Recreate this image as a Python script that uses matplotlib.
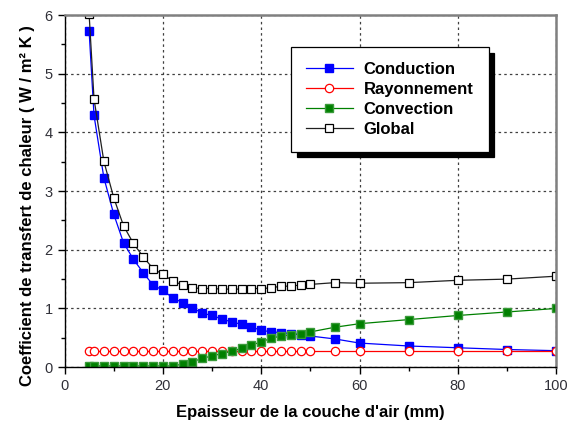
import matplotlib.pyplot as plt
from matplotlib.ticker import MultipleLocator

plt.rcParams['font.family'] = ['Liberation Sans', 'DejaVu Sans']

# Epaisseur de la couche d'air (mm)
epaisseur = [5, 6, 8, 10, 12, 14, 16, 18, 20, 22, 24, 26, 28, 30, 32, 34, 36,
             38, 40, 42, 44, 46, 48, 50, 55, 60, 70, 80, 90, 100]

# Coefficients de transfert (W/m2K)
conduction = [5.73, 4.29, 3.23, 2.61, 2.12, 1.84, 1.61, 1.40, 1.31, 1.18, 1.10,
              1.01, 0.92, 0.88, 0.82, 0.77, 0.73, 0.68, 0.63, 0.60, 0.59, 0.57,
              0.55, 0.53, 0.48, 0.41, 0.36, 0.33, 0.30, 0.28]
rayonnement = [0.27] * len(epaisseur)
convection = [0.02, 0.02, 0.02, 0.02, 0.02, 0.02, 0.02, 0.02, 0.02, 0.02, 0.05,
              0.09, 0.15, 0.19, 0.23, 0.27, 0.32, 0.375, 0.43, 0.49, 0.53, 0.55,
              0.57, 0.60, 0.68, 0.74, 0.81, 0.88, 0.94, 1.00]
glob = [6.02, 4.57, 3.51, 2.89, 2.41, 2.11, 1.88, 1.68, 1.58, 1.47, 1.40, 1.35,
        1.34, 1.34, 1.33, 1.33, 1.33, 1.34, 1.34, 1.35, 1.38, 1.38, 1.40, 1.41,
        1.44, 1.43, 1.44, 1.48, 1.50, 1.55]

fig = plt.figure(figsize=(5.71, 4.21), dpi=100)
ax = fig.add_axes([0.113, 0.128, 0.861, 0.836])

ms = 6
ax.plot(epaisseur, conduction, color='#0000ff', lw=0.9, marker='s', ms=ms,
        mfc='#0000ff', mec='#0000ff', label='Conduction')
ax.plot(epaisseur, rayonnement, color='#ff0000', lw=0.9, marker='o', ms=ms,
        mfc='white', mec='#ff0000', mew=0.9, label='Rayonnement')
ax.plot(epaisseur, convection, color='#008000', lw=0.9, marker='s', ms=ms,
        mfc='#008000', mec='#3a9a3a', label='Convection')
ax.plot(epaisseur, glob, color='#202020', lw=0.9, marker='s', ms=ms,
        mfc='white', mec='black', mew=0.9, label='Global')

ax.set_xlim(0, 100)
ax.set_ylim(0, 6)
ax.xaxis.set_major_locator(MultipleLocator(20))
ax.xaxis.set_minor_locator(MultipleLocator(10))
ax.yaxis.set_major_locator(MultipleLocator(1))
ax.yaxis.set_minor_locator(MultipleLocator(0.5))
ax.tick_params(which='major', direction='out', length=5, width=1,
               labelsize=10.5, labelcolor='#303038')
ax.tick_params(which='minor', direction='out', length=3, width=1)

ax.grid(True, which='major', color='#404040', linestyle=(0, (2, 2.5)), lw=0.9)

for side in ['left', 'bottom']:
    ax.spines[side].set_color('black')
    ax.spines[side].set_linewidth(1)
for side in ['top', 'right']:
    ax.spines[side].set_color('#808080')
    ax.spines[side].set_linewidth(1.8)

ax.set_xlabel("Epaisseur de la couche d'air (mm)", fontsize=12,
              fontweight='bold', labelpad=9)
ax.set_ylabel('Coefficient de transfert de chaleur ( W / m² K )', fontsize=12,
              fontweight='bold')
ax.yaxis.set_label_coords(-0.06, 0.46)

leg = ax.legend(loc='upper left', bbox_to_anchor=(0.461, 0.909),
                prop={'weight': 'bold', 'size': 12}, handlelength=2.8,
                labelspacing=0.29, borderpad=0.9, handletextpad=0.65,
                borderaxespad=0, fancybox=False, framealpha=1,
                shadow={'color': 'black', 'alpha': 1, 'ox': 4, 'oy': -4})
leg.get_frame().set_edgecolor('black')
leg.get_frame().set_linewidth(0.9)

fig.savefig('out.png', dpi=100)
